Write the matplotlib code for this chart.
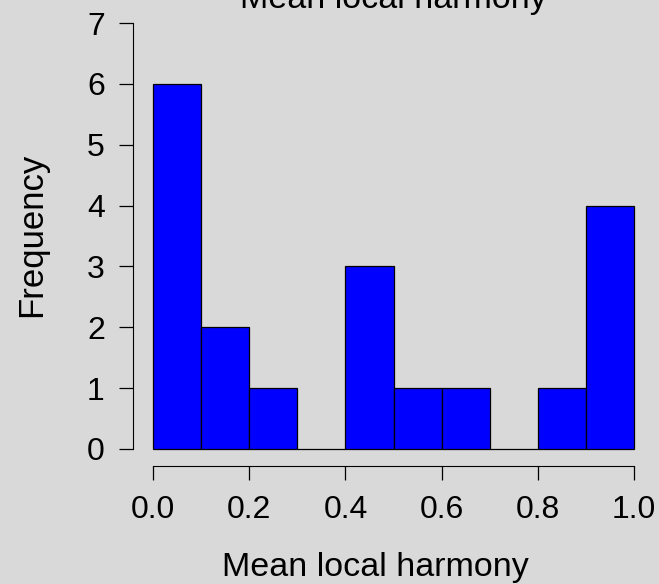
import numpy as np
import matplotlib.pyplot as plt

plt.rcParams['font.family'] = ['Liberation Sans', 'DejaVu Sans']

# histogram of mean local harmony, bins of width 0.1
bin_edges = [0.0, 0.1, 0.2, 0.3, 0.4, 0.5, 0.6, 0.7, 0.8, 0.9, 1.0]
counts = [6, 2, 1, 0, 3, 1, 1, 0, 1, 4]
x_ticks = [0.0, 0.2, 0.4, 0.6, 0.8, 1.0]
x_tick_labels = ['0.0', '0.2', '0.4', '0.6', '0.8', '1.0']
y_ticks = [0, 1, 2, 3, 4, 5, 6, 7]

bg = '#d9d9d9'
fig = plt.figure(figsize=(6.59, 5.84), dpi=100, facecolor=bg)
ax = fig.add_axes([134 / 659, 1 - 466 / 584, (653 - 134) / 659, (466 - 6) / 584])
ax.set_facecolor(bg)

widths = np.diff(bin_edges)
ax.bar(bin_edges[:-1], counts, width=widths, align='edge',
       color='#0000ff', edgecolor='black', linewidth=0.9)

ax.set_xlim(-0.04, 1.04)
ax.set_ylim(-0.28, 7.28)

for s in ['top', 'right']:
    ax.spines[s].set_visible(False)
ax.spines['left'].set_bounds(0, 7)
ax.spines['bottom'].set_bounds(0, 1)
ax.spines['left'].set_position(('outward', 1))

ax.set_xticks(x_ticks)
ax.set_xticklabels(x_tick_labels)
ax.set_yticks(y_ticks)
ax.tick_params(axis='both', direction='out', length=10, width=0.9,
               labelsize=23, color='black')
ax.tick_params(axis='x', pad=11)
ax.tick_params(axis='y', pad=10)

fig.text(393 / 659, 1 - 8 / 584, 'Mean local harmony', ha='center',
         va='baseline', fontsize=24.5)
fig.text(375 / 659, 1 - 576 / 584, 'Mean local harmony', ha='center',
         va='baseline', fontsize=24.5)
fig.text(32 / 659, 1 - 235 / 584, 'Frequency', ha='center', va='center',
         rotation=90, fontsize=25)

fig.savefig('out.png', dpi=100, facecolor=bg)
